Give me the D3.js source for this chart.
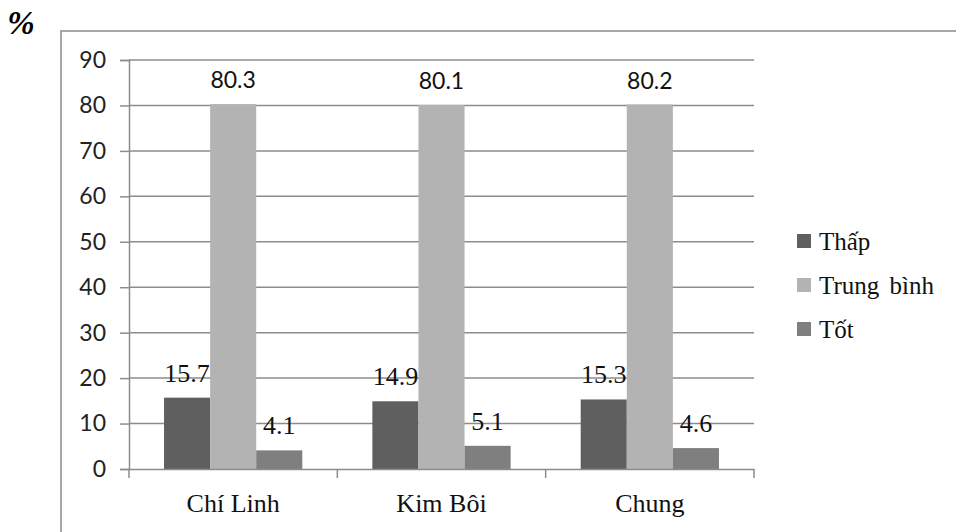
<!DOCTYPE html>
<html><head><meta charset="utf-8">
<script src="https://cdn.jsdelivr.net/npm/d3@7"></script>
<style>body{margin:0;background:#fff}svg{display:block}</style>
</head><body>
<svg id="c" width="956" height="532"></svg>
<script>
const categories = ["Chí Linh", "Kim Bôi", "Chung"];
const seriesNames = ["Thấp", "Trung bình", "Tốt"];
const thap = [15.7, 14.9, 15.3];
const trungBinh = [80.3, 80.1, 80.2];
const tot = [4.1, 5.1, 4.6];
const yTicks = [0, 10, 20, 30, 40, 50, 60, 70, 80, 90];
const colors = ["#5f5f5f", "#b3b3b3", "#7f7f7f"];
const seriesValues = [thap, trungBinh, tot];

const svg = d3.select("#c");
const serif = "Liberation Serif, Times New Roman, serif";
const sans = "Lato, Liberation Sans, sans-serif";

// outer frame
svg.append("rect").attr("x", 61).attr("y", 31).attr("width", 1000).attr("height", 600)
  .attr("fill", "none").attr("stroke", "#8a8a8a").attr("stroke-width", 1.5);

svg.append("text").attr("x", 21).attr("y", 34).attr("text-anchor", "middle")
  .attr("font-family", serif).attr("font-weight", "bold").attr("font-style", "italic")
  .attr("font-size", 33).attr("fill", "#000").text("%");

const x0 = 129, x1 = 754, yTop = 60, yBot = 469;
const x = d3.scaleBand().domain(categories).range([x0, x1]).paddingInner(0).paddingOuter(0);
const xs = d3.scaleBand().domain(seriesNames).range([0, x.bandwidth()]).paddingInner(0).paddingOuter(0.76);
const y = d3.scaleLinear().domain([0, 90]).range([yBot, yTop]);

// gridlines
svg.append("g").selectAll("line").data(yTicks.filter(d => d > 0)).join("line")
  .attr("x1", x0).attr("x2", x1).attr("y1", d => y(d)).attr("y2", d => y(d))
  .attr("stroke", "#8c8c8c").attr("stroke-width", 1.5);

// y axis
const yAxis = svg.append("g").attr("transform", `translate(${x0},0)`)
  .call(d3.axisLeft(y).tickValues(yTicks).tickSize(9).tickPadding(14));
yAxis.select(".domain").attr("stroke", "#8c8c8c").attr("stroke-width", 1.5);
yAxis.selectAll(".tick line").attr("stroke", "#8c8c8c").attr("stroke-width", 1.5);
yAxis.selectAll(".tick text").attr("font-family", sans).attr("font-size", 23).attr("fill", "#222");

// bars
seriesNames.forEach((s, si) => {
  const g = svg.append("g");
  g.selectAll("rect").data(categories).join("rect")
    .attr("x", c => x(c) + xs(s))
    .attr("width", xs.bandwidth())
    .attr("y", (c, i) => y(seriesValues[si][i]))
    .attr("height", (c, i) => yBot - y(seriesValues[si][i]))
    .attr("fill", colors[si]);
  g.selectAll("text").data(categories).join("text")
    .attr("x", c => x(c) + xs(s) + xs.bandwidth() / 2)
    .attr("y", (c, i) => y(seriesValues[si][i]) - 16)
    .attr("text-anchor", "middle")
    .attr("font-family", si === 1 ? sans : serif)
    .attr("font-size", si === 1 ? 23 : 26)
    .attr("fill", "#111")
    .text((c, i) => seriesValues[si][i]);
});

// x axis
const xAxis = svg.append("g").attr("transform", `translate(0,${yBot})`)
  .call(d3.axisBottom(x).tickSize(0).tickPadding(25));
xAxis.select(".domain").attr("stroke", "#8c8c8c").attr("stroke-width", 1.5);
xAxis.selectAll(".tick text").attr("font-family", serif).attr("font-size", 26).attr("fill", "#111");
svg.append("g").selectAll("line").data([x0, ...categories.map(c => x(c) + x.bandwidth())]).join("line")
  .attr("x1", d => d).attr("x2", d => d).attr("y1", yBot).attr("y2", yBot + 9)
  .attr("stroke", "#8c8c8c").attr("stroke-width", 1.5);

// legend
const lg = svg.append("g").selectAll("g").data(seriesNames).join("g")
  .attr("transform", (d, i) => `translate(797,${241 + i * 44})`);
lg.append("rect").attr("x", 0).attr("y", -7).attr("width", 14).attr("height", 14)
  .attr("fill", (d, i) => colors[i]);
lg.append("text").attr("x", 22).attr("y", 9).attr("font-family", serif).attr("font-size", 25)
  .attr("fill", "#111").attr("word-spacing", 4).text(d => d);
</script>
</body></html>
